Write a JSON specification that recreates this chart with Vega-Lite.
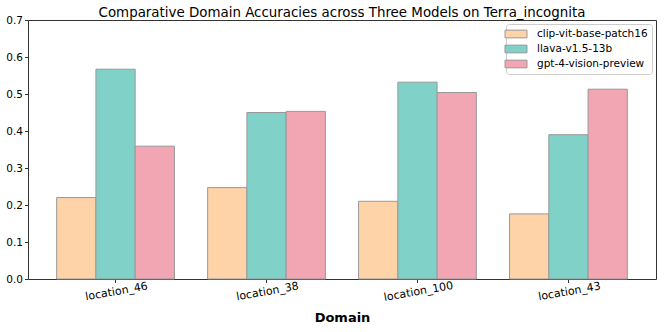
{
  "$schema": "https://vega.github.io/schema/vega-lite/v6.json",
  "autosize": {"type": "none"},
  "padding": {"left": 28, "top": 20, "right": 8, "bottom": 53},
  "width": 628,
  "height": 259,
  "title": {"text": "Comparative Domain Accuracies across Three Models on Terra_incognita", "fontSize": 13.4, "font": "DejaVu Sans", "fontWeight": "normal", "color": "#000", "offset": -4, "anchor": "middle"},
  "config": {
    "font": "DejaVu Sans",
    "view": {"stroke": "#333", "strokeWidth": 1}
  },
  "data": {
    "values": [
      {"domain": "location_46", "model": "clip-vit-base-patch16", "acc": 0.220},
      {"domain": "location_46", "model": "llava-v1.5-13b", "acc": 0.567},
      {"domain": "location_46", "model": "gpt-4-vision-preview", "acc": 0.359},
      {"domain": "location_38", "model": "clip-vit-base-patch16", "acc": 0.247},
      {"domain": "location_38", "model": "llava-v1.5-13b", "acc": 0.450},
      {"domain": "location_38", "model": "gpt-4-vision-preview", "acc": 0.453},
      {"domain": "location_100", "model": "clip-vit-base-patch16", "acc": 0.210},
      {"domain": "location_100", "model": "llava-v1.5-13b", "acc": 0.532},
      {"domain": "location_100", "model": "gpt-4-vision-preview", "acc": 0.504},
      {"domain": "location_43", "model": "clip-vit-base-patch16", "acc": 0.176},
      {"domain": "location_43", "model": "llava-v1.5-13b", "acc": 0.390},
      {"domain": "location_43", "model": "gpt-4-vision-preview", "acc": 0.513}
    ]
  },
  "mark": {"type": "bar", "stroke": "#999999", "strokeWidth": 1},
  "encoding": {
    "x": {
      "field": "domain", "type": "nominal", "sort": null,
      "scale": {"paddingInner": 0.22, "paddingOuter": 0.19},
      "axis": {"title": "Domain", "titleFontSize": 13, "titleFontWeight": "bold", "titleColor": "#000", "titlePadding": 9,
               "labelAngle": -10, "labelAlign": "center", "labelBaseline": "top", "labelFontSize": 11, "labelColor": "#000", "labelPadding": 3,
               "tickSize": 3.5, "tickColor": "#333", "domain": false}
    },
    "xOffset": {"field": "model", "type": "nominal", "sort": ["clip-vit-base-patch16", "llava-v1.5-13b", "gpt-4-vision-preview"], "scale": {"paddingInner": 0, "paddingOuter": 0}},
    "y": {
      "field": "acc", "type": "quantitative",
      "scale": {"domain": [0, 0.7], "nice": false},
      "axis": {"title": null, "values": [0, 0.1, 0.2, 0.3, 0.4, 0.5, 0.6, 0.7], "format": ".1f", "grid": false,
               "labelFontSize": 10.5, "labelColor": "#000", "tickSize": 3.5, "tickColor": "#333", "domain": false, "labelPadding": 2}
    },
    "color": {
      "field": "model", "type": "nominal",
      "sort": ["clip-vit-base-patch16", "llava-v1.5-13b", "gpt-4-vision-preview"],
      "scale": {"domain": ["clip-vit-base-patch16", "llava-v1.5-13b", "gpt-4-vision-preview"], "range": ["#FFD3A8", "#80D1C8", "#F2A5B2"]},
      "legend": {
        "title": null, "orient": "top-right", "offset": 4,
        "fillColor": "white", "strokeColor": "#cccccc", "cornerRadius": 3, "padding": 4,
        "labelFontSize": 10.5, "labelColor": "#000", "labelOffset": 15,
        "symbolType": "M-2,-0.7H2V0.7H-2Z", "symbolSize": 121, "symbolStrokeColor": "#999999", "symbolStrokeWidth": 1, "symbolOpacity": 1,
        "rowPadding": 3
      }
    }
  }
}
